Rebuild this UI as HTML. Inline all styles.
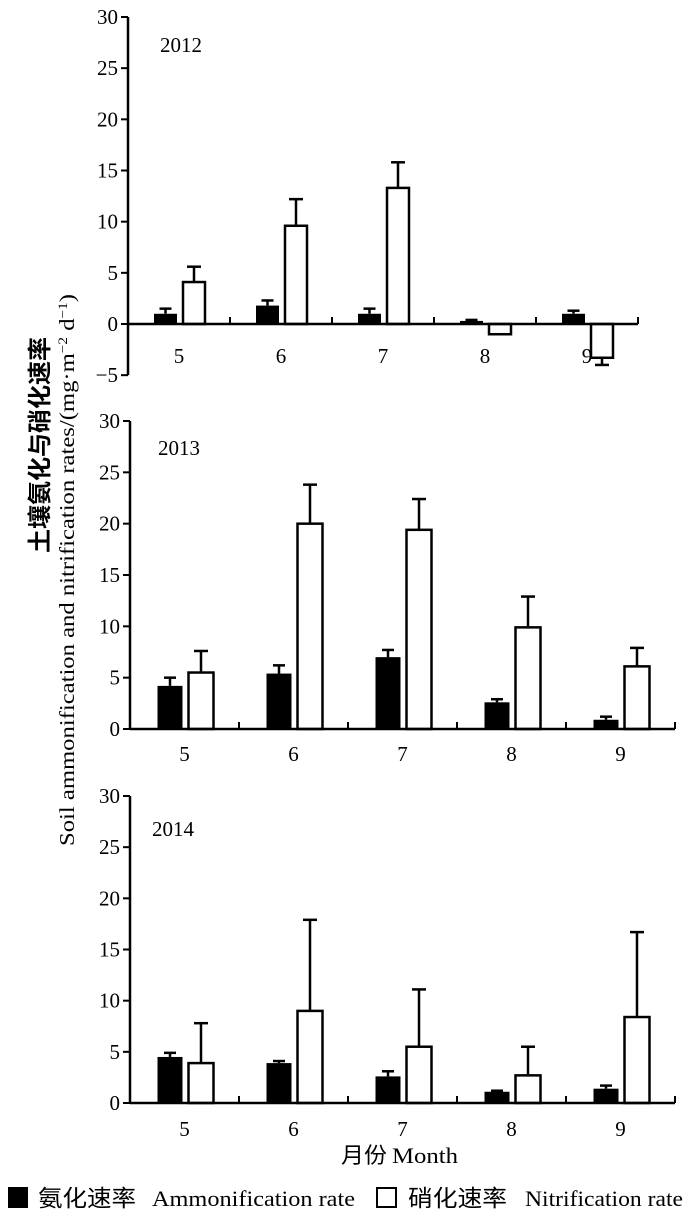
<!DOCTYPE html>
<html><head><meta charset="utf-8">
<style>
html,body{margin:0;padding:0;background:#fff;}
svg{display:block;}
text{font-family:"Liberation Serif","Noto Serif CJK SC",serif;fill:#000;}
</style></head>
<body>
<svg id="chart" width="700" height="1222" viewBox="0 0 700 1222" xmlns="http://www.w3.org/2000/svg">
<text x="0" y="0" transform="translate(48,445) rotate(-90)" text-anchor="middle" font-size="24" font-weight="bold" style="font-family:'Noto Sans CJK SC',sans-serif">土壤氨化与硝化速率</text>
<text x="0" y="0" transform="translate(74,570) rotate(-90)" text-anchor="middle" font-size="21" textLength="552" lengthAdjust="spacingAndGlyphs">Soil ammonification and nitrification rates/(mg·m<tspan baseline-shift="super" font-size="13">−2</tspan> d<tspan baseline-shift="super" font-size="13">−1</tspan>)</text>
<g>
<text x="341" y="1163" font-size="22" textLength="46" lengthAdjust="spacingAndGlyphs" style="font-family:'Noto Sans CJK SC',sans-serif">月份</text>
<text x="392" y="1163" font-size="22" textLength="66" lengthAdjust="spacingAndGlyphs">Month</text>
</g>
<g>
<rect x="8" y="1187" width="20" height="21" fill="#000"/>
<text x="38" y="1206" font-size="23" textLength="98" lengthAdjust="spacingAndGlyphs" style="font-family:'Noto Sans CJK SC',sans-serif">氨化速率</text>
<text x="152" y="1206" font-size="22" textLength="203" lengthAdjust="spacingAndGlyphs">Ammonification rate</text>
<rect x="377" y="1188" width="19" height="19" fill="#fff" stroke="#000" stroke-width="2"/>
<text x="408" y="1206" font-size="23" textLength="99" lengthAdjust="spacingAndGlyphs" style="font-family:'Noto Sans CJK SC',sans-serif">硝化速率</text>
<text x="525" y="1206" font-size="22" textLength="158" lengthAdjust="spacingAndGlyphs">Nitrification rate</text>
</g>
</svg>
<script>
const months = ['5','6','7','8','9'];
const yearLabels = ['2012','2013','2014'];
const yTicks2012 = [-5,0,5,10,15,20,25,30];
const yTicks = [0,5,10,15,20,25,30];
const amm2012 = [1.0,1.8,1.0,0.3,1.0];
const ammErr2012 = [1.5,2.3,1.5,0.4,1.3];
const nit2012 = [4.1,9.6,13.3,-1.0,-3.3];
const nitErr2012 = [5.6,12.2,15.8,null,-4.0];
const amm2013 = [4.2,5.4,7.0,2.6,0.9];
const ammErr2013 = [5.0,6.2,7.7,2.9,1.2];
const nit2013 = [5.5,20.0,19.4,9.9,6.1];
const nitErr2013 = [7.6,23.8,22.4,12.9,7.9];
const amm2014 = [4.5,3.9,2.6,1.1,1.4];
const ammErr2014 = [4.9,4.1,3.1,1.2,1.7];
const nit2014 = [3.9,9.0,5.5,2.7,8.4];
const nitErr2014 = [7.8,17.9,11.1,5.5,16.7];

const svg = document.getElementById('chart');
const NS = 'http://www.w3.org/2000/svg';
function mk(tag, attrs){const e=document.createElementNS(NS,tag);for(const k in attrs)e.setAttribute(k,attrs[k]);return e;}

const panels = [
 {year:0, x0:128, x1:638, yTop:17, yZero:324, ticks:yTicks2012, amm:amm2012, ae:ammErr2012, nit:nit2012, ne:nitErr2012, off:[-25,-2,4,26], labelY:363, yearX:160, yearY:52},
 {year:1, x0:130, x1:675, yTop:421, yZero:729, ticks:yTicks, amm:amm2013, ae:ammErr2013, nit:nit2013, ne:nitErr2013, off:[-27,-2,4,29], labelY:761, yearX:158, yearY:455},
 {year:2, x0:130, x1:675, yTop:796, yZero:1103, ticks:yTicks, amm:amm2014, ae:ammErr2014, nit:nit2014, ne:nitErr2014, off:[-27,-2,4,29], labelY:1136, yearX:152, yearY:836}
];

panels.forEach(p=>{
  const g = mk('g',{});
  
  
  svg.appendChild(g);
  const unit = (p.yZero-p.yTop)/30;
  const y = v => p.yZero - v*unit;
  const cw = (p.x1-p.x0)/months.length;
  const cx = i => p.x0 + cw*(i+0.5);
  const minV = p.ticks[0];
  const ya = mk('line',{x1:p.x0,x2:p.x0,y1:y(30),y2:y(minV),stroke:'#000','stroke-width':2.5});
  
  
  g.appendChild(ya);
  p.ticks.forEach(t=>{
    const tk = mk('line',{x1:p.x0-7,x2:p.x0,y1:y(t),y2:y(t),stroke:'#000','stroke-width':2});
    
    
    g.appendChild(tk);
    const tl = mk('text',{x:p.x0-10,y:y(t)+7,'text-anchor':'end','font-size':21});
    
    
    tl.textContent = t<0 ? '−'+Math.abs(t) : String(t);
    g.appendChild(tl);
  });
  months.forEach((m,i)=>{
    const ml = mk('text',{x:cx(i),y:p.labelY,'text-anchor':'middle','font-size':21});
    
    
    ml.textContent = m;
    g.appendChild(ml);
  });
  const yl = mk('text',{x:p.yearX,y:p.yearY,'font-size':21});
  
  
  yl.textContent = yearLabels[p.year];
  g.appendChild(yl);
  months.forEach((m,i)=>{
    const c = cx(i);
    const a = p.amm[i];
    const ac = c+(p.off[0]+p.off[1])/2;
    if(p.ae[i]!=null){
      const e1 = mk('line',{x1:ac,x2:ac,y1:y(a),y2:y(p.ae[i]),stroke:'#000','stroke-width':2.5});
      
      
      g.appendChild(e1);
      const e2 = mk('line',{x1:ac-6,x2:ac+6,y1:y(p.ae[i]),y2:y(p.ae[i]),stroke:'#000','stroke-width':2.5});
      
      
      g.appendChild(e2);
    }
    const ba = mk('rect',{x:c+p.off[0],width:p.off[1]-p.off[0],y:Math.min(y(a),y(0)),height:Math.abs(y(a)-y(0)),fill:'#000'});
    
    
    g.appendChild(ba);
    const n = p.nit[i];
    const nc = c+(p.off[2]+p.off[3])/2;
    if(p.ne[i]!=null){
      const e1 = mk('line',{x1:nc,x2:nc,y1:y(n),y2:y(p.ne[i]),stroke:'#000','stroke-width':2.5});
      
      
      g.appendChild(e1);
      const e2 = mk('line',{x1:nc-7,x2:nc+7,y1:y(p.ne[i]),y2:y(p.ne[i]),stroke:'#000','stroke-width':2.5});
      
      
      g.appendChild(e2);
    }
    const bn = mk('rect',{x:c+p.off[2],width:p.off[3]-p.off[2],y:Math.min(y(n),y(0)),height:Math.abs(y(n)-y(0)),fill:'#fff',stroke:'#000','stroke-width':2.5});
    
    
    g.appendChild(bn);
  });
  const xa = mk('line',{x1:p.x0,x2:p.x1,y1:p.yZero,y2:p.yZero,stroke:'#000','stroke-width':2.5});
  
  
  g.appendChild(xa);
  for(let k=1;k<=months.length;k++){
    const xx = p.x0+cw*k;
    const st = mk('line',{x1:xx,x2:xx,y1:p.yZero-7,y2:p.yZero,stroke:'#000','stroke-width':2});
    
    
    g.appendChild(st);
  }
});
</script>
</body></html>
